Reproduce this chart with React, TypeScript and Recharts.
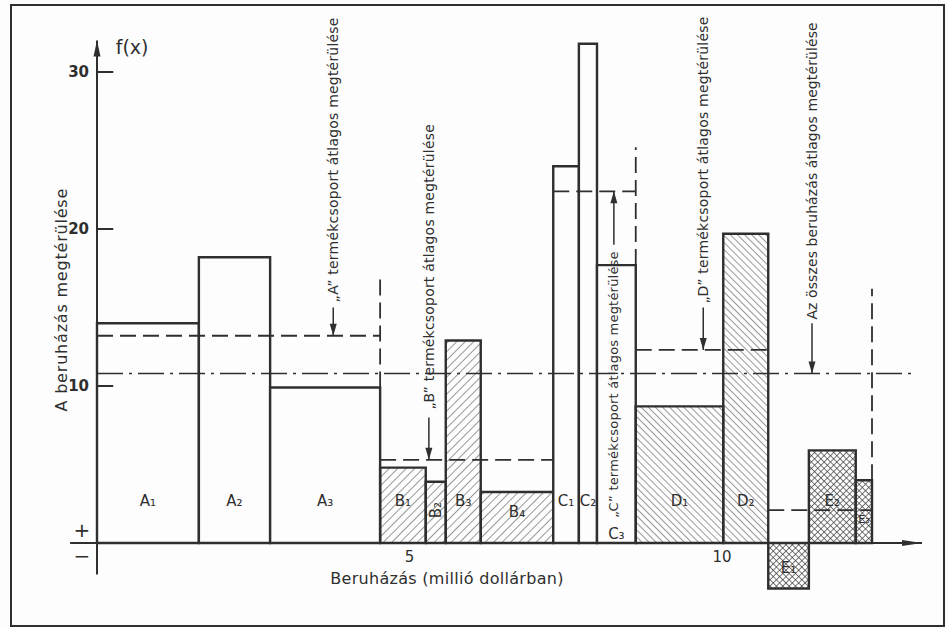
import React from "react";
import {
  ComposedChart,
  XAxis,
  YAxis,
  ReferenceArea,
  ReferenceLine,
  ReferenceDot,
} from "recharts";

// Beruházások: sávszélesség = beruházás (millió dollár), magasság = megtérülés f(x)
const barNames = ["A₁", "A₂", "A₃", "B₁", "B₂", "B₃", "B₄", "C₁", "C₂", "C₃", "D₁", "D₂", "E₁", "E₂", "E₃"];
const barGroups = ["A", "A", "A", "B", "B", "B", "B", "C", "C", "C", "D", "D", "E", "E", "E"];
const barEnds = [1.63, 2.77, 4.53, 5.26, 5.58, 6.14, 7.3, 7.71, 8.0, 8.62, 10.02, 10.74, 11.39, 12.14, 12.4];
const barValues = [14.0, 18.2, 9.9, 4.8, 3.9, 12.9, 3.25, 24.0, 31.8, 17.7, 8.7, 19.7, -2.9, 5.9, 4.0];

const groupNames = ["A", "B", "C", "D", "E"];
const groupAverages = [13.2, 5.3, 22.4, 12.3, 2.1];
const overallAverage = 10.8;

const yTicks = [10, 20, 30];
const xTicks = [5, 10];

const INK = "#2f2f2f";
const FONT = "'DejaVu Sans', sans-serif";

const groupFill: Record<string, string> = {
  A: "#fdfdfd",
  B: "url(#hatchB)",
  C: "#fdfdfd",
  D: "url(#hatchD)",
  E: "url(#hatchE)",
};

const bars = barNames.map((name, i) => ({
  name,
  group: barGroups[i],
  x1: i === 0 ? 0 : barEnds[i - 1],
  x2: barEnds[i],
  value: barValues[i],
}));

const groupSpan = (g: string) => {
  const gs = bars.filter((b) => b.group === g);
  return { x1: gs[0].x1, x2: gs[gs.length - 1].x2, last: gs[gs.length - 1].value };
};

// label placement (layout only)
const barLabelY: Record<string, number> = { "B₂": 2.1, "B₄": 2.0, "C₃": 0.6, "E₁": -1.6, "E₃": 1.5 };
const barLabelAngle: Record<string, number> = { "B₂": -90 };

const notes = [
  { group: "A", text: "„A” termékcsoport átlagos megtérülése", x: 3.78, y: 24.4, from: 15.0, size: 14 },
  { group: "B", text: "„B” termékcsoport átlagos megtérülése", x: 5.31, y: 17.6, from: 8.0, size: 14 },
  { group: "C", text: "„C” termékcsoport átlagos megtérülése", x: 8.27, y: 10.1, from: 19.0, size: 13 },
  { group: "D", text: "„D” termékcsoport átlagos megtérülése", x: 9.7, y: 24.4, from: 15.0, size: 14 },
];
const overallNote = { text: "Az összes beruházás átlagos megtérülése", x: 11.44, y: 23.7, from: 14.0 };

const boundaryTops: Record<string, number> = { A: 17.1, C: 25.2, E: 16.2 };

const textShape =
  (text: string, size: number, angle = 0, anchor: string = "middle", weight = 400, spacing = 0) =>
  (p: any) =>
    (
      <text
        x={p.cx}
        y={p.cy}
        fontSize={size}
        fontFamily={FONT}
        fontWeight={weight}
        letterSpacing={spacing}
        fill={INK}
        textAnchor={anchor}
        dominantBaseline="central"
        transform={angle ? `rotate(${angle} ${p.cx} ${p.cy})` : undefined}
      >
        {text}
      </text>
    );

const arrowHead =
  (dir: "up" | "down" | "right", len = 12, half = 3.5) =>
  (p: any) => {
    const { cx, cy } = p;
    let pts = "";
    if (dir === "down") pts = `${cx},${cy} ${cx - half},${cy - len} ${cx + half},${cy - len}`;
    if (dir === "up") pts = `${cx},${cy} ${cx - half},${cy + len} ${cx + half},${cy + len}`;
    if (dir === "right") pts = `${cx},${cy} ${cx - len},${cy - half} ${cx - len},${cy + half}`;
    return <polygon points={pts} fill={INK} />;
  };

export default function App() {
  return (
    <div style={{ position: "absolute", left: 0, top: 0, width: 947, height: 627, background: "#fdfdfd" }}>
      <svg width={0} height={0} style={{ position: "absolute" }}>
        <defs>
          <pattern id="hatchB" patternUnits="userSpaceOnUse" width="6" height="6" patternTransform="rotate(45)">
            <line x1="0" y1="0" x2="0" y2="6" stroke="#444" strokeWidth="1.1" />
          </pattern>
          <pattern id="hatchD" patternUnits="userSpaceOnUse" width="5" height="5" patternTransform="rotate(-45)">
            <line x1="0" y1="0" x2="0" y2="5" stroke="#444" strokeWidth="1.1" />
          </pattern>
          <pattern id="hatchE" patternUnits="userSpaceOnUse" width="4.5" height="4.5" patternTransform="rotate(45)">
            <line x1="0" y1="0" x2="0" y2="4.5" stroke="#333" strokeWidth="1.3" />
            <line x1="0" y1="0" x2="4.5" y2="0" stroke="#333" strokeWidth="1.3" />
          </pattern>
        </defs>
      </svg>
      <div
        style={{
          position: "absolute",
          left: 10,
          top: 4,
          width: 931,
          height: 619,
          border: `2.5px solid ${INK}`,
        }}
      />
      <div style={{ position: "absolute", left: 0, top: 0 }}>
        <ComposedChart
          width={947}
          height={627}
          data={[]}
          margin={{ top: 40.6, right: 25, bottom: 52.6, left: 57 }}
        >
          <XAxis type="number" dataKey="x" domain={[0, 13.2]} allowDataOverflow hide />
          <YAxis
            type="number"
            domain={[-2, 32]}
            allowDataOverflow
            width={40}
            ticks={yTicks}
            tickLine={false}
            tickSize={0}
            tickMargin={8}
            axisLine={{ stroke: INK, strokeWidth: 2 }}
            tick={{ fill: INK, fontSize: 15, fontFamily: FONT, fontWeight: 600 }}
          />

          {bars.map((b) => (
            <ReferenceArea
              key={b.name}
              x1={b.x1}
              x2={b.x2}
              y1={0}
              y2={b.value}
              ifOverflow="visible"
              fill={groupFill[b.group]}
              fillOpacity={1}
              stroke={INK}
              strokeWidth={2.4}
            />
          ))}

          {/* axis lines */}
          <ReferenceLine
            segment={[{ x: -0.43, y: 0 }, { x: 13.2, y: 0 }]}
            ifOverflow="visible"
            stroke={INK}
            strokeWidth={2}
          />
          {yTicks.map((t) => (
            <ReferenceLine
              key={`yt${t}`}
              segment={[{ x: 0, y: t }, { x: 0.26, y: t }]}
              ifOverflow="visible"
              stroke={INK}
              strokeWidth={2}
            />
          ))}

          {/* averages */}
          <ReferenceLine
            segment={[{ x: 0, y: overallAverage }, { x: 13.1, y: overallAverage }]}
            ifOverflow="visible"
            stroke={INK}
            strokeWidth={1.5}
            strokeDasharray="26 6 3 6"
          />
          {groupNames.map((g, i) => {
            const s = groupSpan(g);
            return (
              <ReferenceLine
                key={`avg${g}`}
                segment={[{ x: s.x1, y: groupAverages[i] }, { x: s.x2, y: groupAverages[i] }]}
                ifOverflow="visible"
                stroke={INK}
                strokeWidth={1.8}
                strokeDasharray="16 7"
              />
            );
          })}
          {Object.keys(boundaryTops).map((g) => {
            const s = groupSpan(g);
            return (
              <ReferenceLine
                key={`bd${g}`}
                segment={[{ x: s.x2, y: s.last }, { x: s.x2, y: boundaryTops[g] }]}
                ifOverflow="visible"
                stroke={INK}
                strokeWidth={1.8}
                strokeDasharray="16 7"
              />
            );
          })}

          {/* annotation arrows */}
          {notes.map((n) => {
            const avg = groupAverages[groupNames.indexOf(n.group)];
            return (
              <ReferenceLine
                key={`ar${n.group}`}
                segment={[{ x: n.x, y: n.from }, { x: n.x, y: avg }]}
                ifOverflow="visible"
                stroke={INK}
                strokeWidth={1.5}
              />
            );
          })}
          <ReferenceLine
            segment={[{ x: overallNote.x, y: overallNote.from }, { x: overallNote.x, y: overallAverage }]}
            ifOverflow="visible"
            stroke={INK}
            strokeWidth={1.5}
          />
          {notes.map((n) => {
            const avg = groupAverages[groupNames.indexOf(n.group)];
            return (
              <ReferenceDot
                key={`ah${n.group}`}
                x={n.x}
                y={avg}
                r={0}
                ifOverflow="visible"
                shape={arrowHead(n.from > avg ? "down" : "up")}
              />
            );
          })}
          <ReferenceDot x={overallNote.x} y={overallAverage} r={0} ifOverflow="visible" shape={arrowHead("down")} />
          <ReferenceDot x={0} y={32} r={0} ifOverflow="visible" shape={arrowHead("up", 16, 3.5)} />
          <ReferenceDot x={13.2} y={0} r={0} ifOverflow="visible" shape={arrowHead("right", 20, 3)} />

          {/* annotation texts */}
          {notes.map((n) => (
            <ReferenceDot
              key={`nt${n.group}`}
              x={n.x}
              y={n.y}
              r={0}
              ifOverflow="visible"
              shape={textShape(n.text, n.size, -90, "middle", 400, 0.2)}
            />
          ))}
          <ReferenceDot
            x={overallNote.x}
            y={overallNote.y}
            r={0}
            ifOverflow="visible"
            shape={textShape(overallNote.text, 14, -90, "middle", 400, 0.1)}
          />

          {/* bar labels */}
          {bars.map((b) => (
            <ReferenceDot
              key={`bl${b.name}`}
              x={(b.x1 + b.x2) / 2}
              y={barLabelY[b.name] ?? 2.7}
              r={0}
              ifOverflow="visible"
              shape={textShape(b.name, b.name === "E₃" ? 11 : 15, barLabelAngle[b.name] ?? 0)}
            />
          ))}

          {/* axis texts */}
          {xTicks.map((t) => (
            <ReferenceDot key={`xt${t}`} x={t} y={-0.9} r={0} ifOverflow="visible" shape={textShape(String(t), 15)} />
          ))}
          <ReferenceDot
            x={5.6}
            y={-2.25}
            r={0}
            ifOverflow="visible"
            shape={textShape("Beruházás (millió dollárban)", 16, 0, "middle", 400, 0.3)}
          />
          <ReferenceDot
            x={-0.56}
            y={15.5}
            r={0}
            ifOverflow="visible"
            shape={textShape("A beruházás megtérülése", 16, -90, "middle", 400, 0.8)}
          />
          <ReferenceDot x={0.3} y={31.6} r={0} ifOverflow="visible" shape={textShape("f(x)", 19, 0, "start")} />
          <ReferenceDot x={-0.24} y={0.8} r={0} ifOverflow="visible" shape={textShape("+", 20)} />
          <ReferenceDot x={-0.24} y={-0.85} r={0} ifOverflow="visible" shape={textShape("−", 20)} />
        </ComposedChart>
      </div>
    </div>
  );
}
